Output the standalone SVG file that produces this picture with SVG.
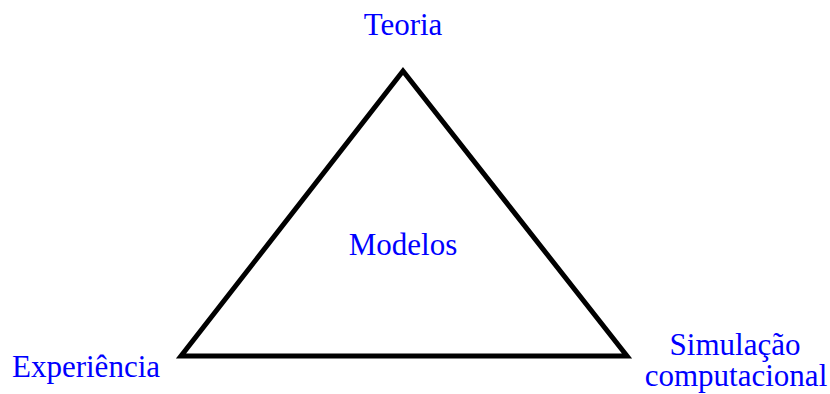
<svg xmlns="http://www.w3.org/2000/svg" width="830" height="394" viewBox="0 0 830 394">
<style>
.lbl{font-family:"Liberation Serif","Times New Roman",serif;font-size:31px;fill:#0000ff;text-anchor:middle}
</style>
<rect width="830" height="394" fill="#ffffff"/>
<g id="connectors">
<polygon points="403,71 181,356 627,356" fill="none" stroke="#000000" stroke-width="5" stroke-linejoin="miter"/>
</g>
<g id="teoria"><text class="lbl" x="403" y="35">Teoria</text></g>
<g id="modelos"><text class="lbl" x="403" y="255">Modelos</text></g>
<g id="experiencia"><text class="lbl" x="86" y="377">Experiência</text></g>
<g id="simulacao"><text class="lbl" x="735" y="355">Simulação</text><text class="lbl" x="736" y="386">computacional</text></g>
</svg>
